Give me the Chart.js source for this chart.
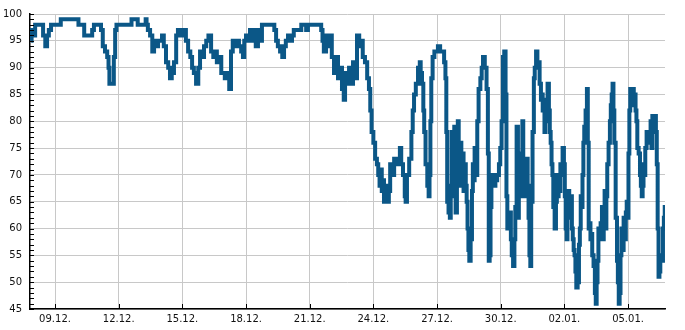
<!DOCTYPE html>
<html>
<head>
<meta charset="utf-8">
<script src="https://cdn.jsdelivr.net/npm/chart.js@4.4.1/dist/chart.umd.min.js"></script>
<style>
    body { margin: 0; background: #fff; }
    canvas { display: block; }
</style>
</head>
<body>
<canvas id="humidityChart" width="685" height="330"></canvas>
<script>
// Stunden seit 07.12. 00:00 und Messwert (%)
const dec07to13 = [[21,95],[22,97],[24,96],[27,98],[33,98],[36,96],[38,94],[40,96],[42,97],[45,98],[54,98],[55,99],[74,99],[75,98],[80,98],[82,96],[85,96],[89,96],[91,97],[93,98],[99,98],[101,97],[103,94],[106,93],[108,92],[109,90],[110,87],[114,87],[115,92],[117,97],[118,98],[134,98],[135,99],[141,99],[142,98],[150,98],[151,99],[152,98]];

const dec13to18 = [[154,97],[157,96],[159,93],[161,95],[163,94],[166,95],[168,95],[170,96],[172,94],[175,91],[177,90],[179,88],[181,89],[184,91],[186,96],[188,97],[192,96],[195,97],[197,95],[200,93],[202,92],[204,90],[206,89],[209,87],[211,90],[213,93],[215,92],[218,94],[220,95],[223,96],[226,93],[228,92],[230,93],[232,91],[235,92],[237,89],[239,89],[241,88],[244,89],[246,86],[248,93],[250,95],[253,94],[255,95],[257,94],[260,93],[261,92],[263,95],[265,96],[267,95],[270,97],[272,97],[274,95],[276,94],[279,97],[281,95],[283,98]];

const dec18to24 = [[286,98],[295,98],[297,97],[299,95],[301,94],[304,93],[306,92],[308,94],[310,95],[313,96],[315,95],[317,96],[319,97],[325,97],[328,98],[331,98],[333,97],[335,98],[342,98],[348,98],[350,97],[351,95],[353,93],[356,96],[358,94],[360,96],[362,92],[365,89],[367,92],[369,88],[371,90],[374,86],[375,84],[377,89],[379,87],[382,90],[384,87],[386,91],[388,88],[391,96],[393,94],[395,95],[397,92],[400,91],[402,88],[404,86],[405,82],[407,78],[409,76],[411,73],[413,72]];

const dec24to29 = [[414,70],[416,68],[417,71],[418,67],[419,69],[421,65],[422,68],[425,65],[426,67],[428,72],[430,70],[433,73],[435,72],[437,73],[439,75],[440,72],[443,70],[444,66],[445,65],[447,70],[450,73],[452,78],[453,82],[455,85],[457,87],[460,90],[461,91],[462,89],[464,87],[465,82],[466,78],[468,72],[470,68],[471,66],[472,70],[473,80],[474,88],[476,92],[478,93],[480,93],[482,94],[485,93],[487,93],[489,91],[490,88],[491,78],[492,65],[494,63],[495,62],[496,68],[497,78],[498,70],[499,66],[500,79],[502,63],[503,70],[504,80],[505,72],[506,68],[507,76],[508,70],[509,74],[511,67],[512,72],[513,68],[514,65],[515,60],[516,56],[517,54],[519,58],[520,67],[521,72],[522,69],[523,75],[525,70],[526,80],[528,86]];

const dec29to02 = [[530,88],[531,90],[533,92],[535,90],[537,86],[538,74],[539,54],[540,55],[541,64],[542,70],[545,68],[547,69],[549,70],[551,72],[552,75],[554,80],[555,92],[557,93],[558,85],[559,66],[560,60],[563,63],[564,58],[565,55],[567,53],[568,58],[569,64],[571,79],[572,62],[573,72],[574,66],[575,74],[576,71],[577,80],[578,72],[580,66],[581,70],[582,73],[583,68],[584,62],[585,55],[586,53],[587,65],[589,78],[590,88],[591,90],[593,93],[594,90],[595,91],[597,87],[598,84],[599,85],[600,82],[601,84],[602,78],[603,83],[604,80],[606,87],[607,82],[608,78],[609,76],[610,72],[611,70],[612,64],[614,60],[615,65],[616,70],[617,66],[618,68],[619,67],[620,72],[621,70],[623,75],[624,72],[625,66],[626,60],[627,58],[628,62],[629,67],[630,64],[632,66],[633,60],[634,58],[635,56],[636,55],[637,52],[638,49],[640,50]];

const jan02to06 = [[641,57],[642,60],[643,66],[644,64],[645,70],[646,76],[647,79],[649,82],[650,86],[651,76],[652,60],[653,61],[654,58],[655,59],[656,55],[658,53],[659,48],[660,46],[661,50],[662,54],[663,60],[664,58],[666,61],[667,64],[668,58],[669,62],[670,67],[671,60],[672,66],[673,72],[675,76],[676,80],[677,83],[678,85],[679,87],[680,82],[681,76],[683,62],[684,54],[685,50],[686,46],[687,48],[688,55],[689,60],[690,56],[692,62],[693,58],[694,63],[695,65],[696,62],[697,74],[698,82],[699,86],[701,84],[702,86],[703,83],[704,85],[705,82],[706,80],[707,75],[709,74],[710,70],[711,68],[712,66],[713,68],[714,72],[715,70],[716,75],[718,78],[719,76],[720,78],[721,77],[722,80],[723,75],[724,81],[725,79],[727,81],[728,78],[729,72],[730,60],[731,51],[732,52],[733,55],[735,54],[736,60],[737,62],[738,64]];

const tickHours = [48, 120, 192, 264, 336, 408, 480, 552, 624, 696];
const tickLabels = ['09.12.', '12.12.', '15.12.', '18.12.', '21.12.', '24.12.', '27.12.', '30.12.', '02.01.', '05.01.'];

const yMin = 45;
const yMax = 100;

const points = [].concat(dec07to13, dec13to18, dec18to24, dec24to29, dec29to02, jan02to06)
    .map(p => ({x: p[0], y: p[1]}));

const tickFont = {family: 'DejaVu Sans', size: 10};

// kleine Striche nach innen, wie im Original
const innerTicks = {
    id: 'innerTicks',
    afterDraw(chart) {
        const c = chart.ctx;
        const xs = chart.scales.x;
        const ys = chart.scales.y;
        c.save();
        c.strokeStyle = '#000';
        c.lineWidth = 1;
        c.beginPath();
        for (let v = yMin; v <= yMax; v++) {
            const py = Math.round(ys.getPixelForValue(v)) + 0.5;
            c.moveTo(xs.left, py);
            c.lineTo(xs.left + 4, py);
        }
        tickHours.forEach(h => {
            const px = Math.round(xs.getPixelForValue(h)) + 0.5;
            c.moveTo(px, ys.bottom);
            c.lineTo(px, ys.bottom - 5);
        });
        c.stroke();
        c.restore();
    }
};

new Chart(document.getElementById('humidityChart').getContext('2d'), {
    type: 'line',
    data: {
        datasets: [{
            data: points,
            borderColor: '#0b5787',
            borderWidth: 4,
            borderJoinStyle: 'miter',
            stepped: 'middle',
            pointRadius: 0,
            fill: false
        }]
    },
    options: {
        responsive: false,
        animation: false,
        layout: {padding: {top: 10, right: 20, left: 0, bottom: 0}},
        plugins: {
            legend: {display: false},
            tooltip: {enabled: false}
        },
        scales: {
            x: {
                type: 'linear',
                min: 19.7,
                max: 737.8,
                afterBuildTicks: axis => {
                    axis.ticks = tickHours.map(h => ({value: h}));
                },
                afterFit: axis => { axis.height = 21; },
                ticks: {
                    font: tickFont,
                    color: '#111',
                    padding: 4,
                    maxRotation: 0,
                    autoSkip: false,
                    callback: (value) => tickLabels[tickHours.indexOf(value)]
                },
                grid: {color: '#c8c8c8', lineWidth: 1, drawTicks: false},
                border: {color: '#000', width: 1.5}
            },
            y: {
                min: yMin,
                max: yMax,
                afterFit: axis => { axis.width = 30; },
                ticks: {
                    stepSize: 5,
                    font: tickFont,
                    color: '#111',
                    padding: 8
                },
                grid: {color: '#c8c8c8', lineWidth: 1, drawTicks: false},
                border: {color: '#000', width: 1.5}
            }
        }
    },
    plugins: [innerTicks]
});
</script>
</body>
</html>
